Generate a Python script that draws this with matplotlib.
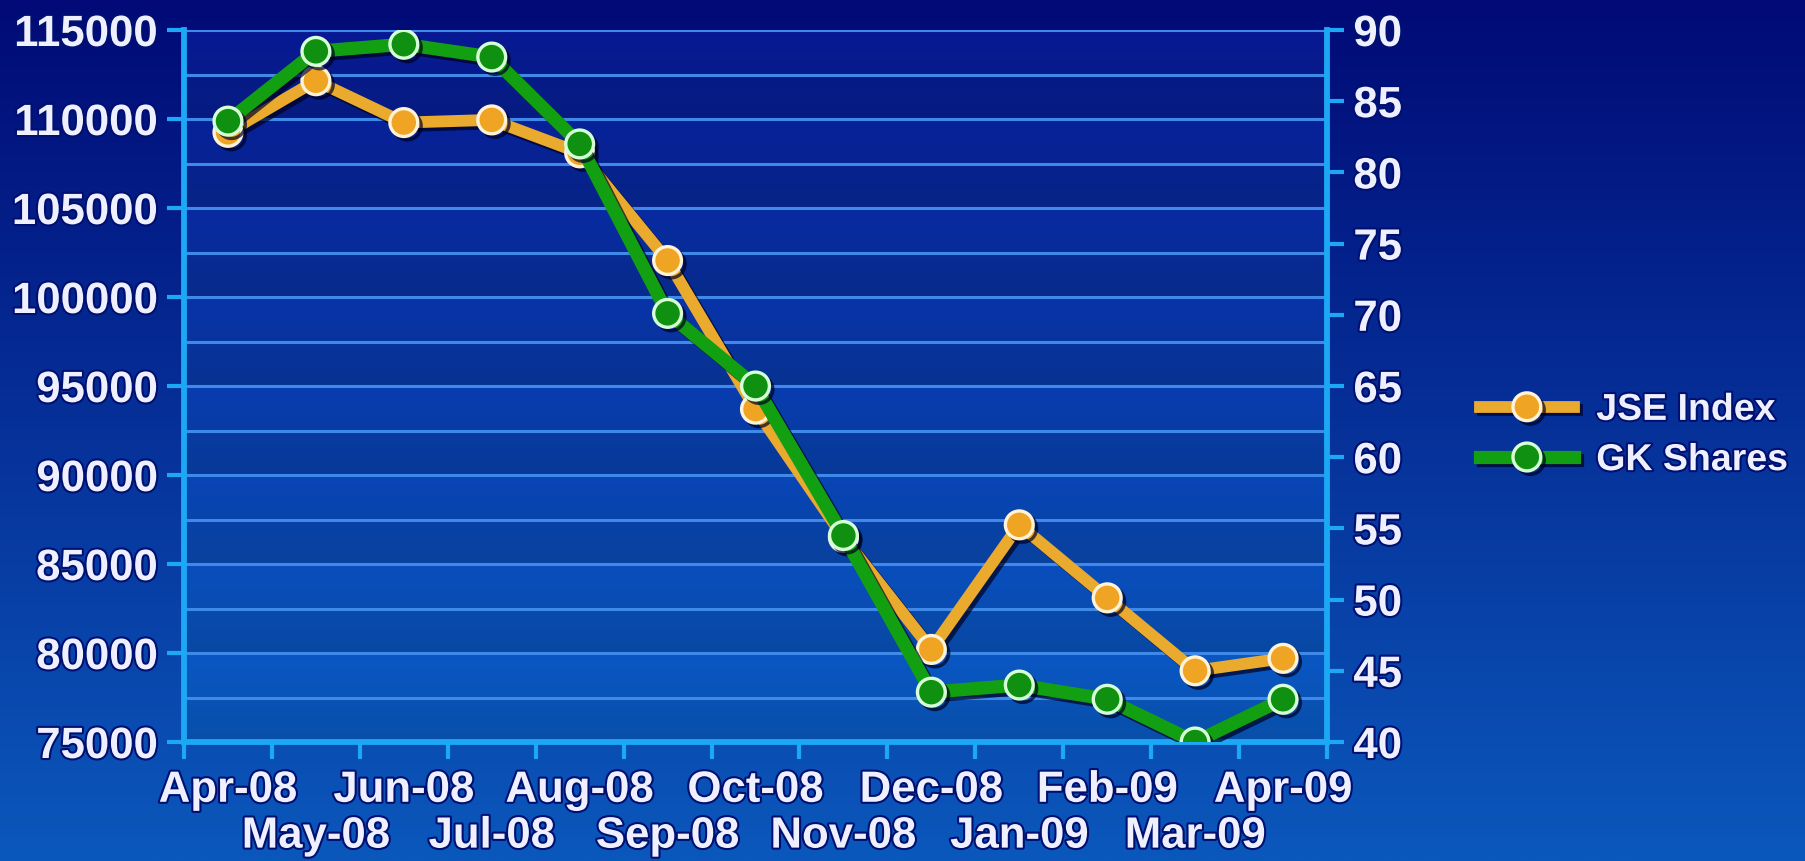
import numpy as np
import matplotlib
matplotlib.use("Agg")
import matplotlib.pyplot as plt
import matplotlib.patheffects as pe
from matplotlib.colors import to_rgb
from matplotlib.lines import Line2D

# ---- data -------------------------------------------------------------
months = ["Apr-08", "May-08", "Jun-08", "Jul-08", "Aug-08", "Sep-08", "Oct-08",
          "Nov-08", "Dec-08", "Jan-09", "Feb-09", "Mar-09", "Apr-09"]
jse_index = [109250, 112150, 109800, 109950, 108100, 102050, 93700,
             86500, 80200, 87200, 83100, 79000, 79700]
gk_shares = [83.6, 88.5, 89.0, 88.1, 82.0, 70.1, 65.0,
             54.5, 43.5, 44.0, 43.0, 40.0, 43.0]
left_ticks = list(range(75000, 115001, 5000))
right_ticks = list(range(40, 91, 5))
grid_levels = list(range(75000, 115001, 2500))

# ---- style ------------------------------------------------------------
FONT = "Liberation Sans"
FS = 31.5
TXT = "#eef0ff"
AXIS_C = "#1ca8f4"
GRID_C = "#3f8ae8"
JSE_C = "#e9aa2e"
GK_C = "#12a012"
txt_fx = [pe.withStroke(linewidth=3, foreground="#001070")]
line_fx = [pe.SimpleLineShadow(offset=(2.5, -2.5), shadow_color="#000020", alpha=0.7),
           pe.Normal()]


def style_labels(labels):
    for lab in labels:
        lab.set_fontfamily(FONT)
        lab.set_fontweight("bold")
        lab.set_fontsize(FS)
        lab.set_color(TXT)
        lab.set_path_effects(txt_fx)


W, H = 1806, 862
fig = plt.figure(figsize=(W / 100, H / 100), dpi=100)

# page background: vertical navy-to-blue gradient
bg = fig.add_axes([0, 0, 1, 1], zorder=-10)
top, bot = np.array(to_rgb("#010a76")), np.array(to_rgb("#0b58bc"))
t = np.linspace(0, 1, 400)[:, None]
grad = top + (bot - top) * t[..., None] * np.ones((1, 2, 1))
bg.imshow(grad, aspect="auto", extent=[0, 1, 0, 1], origin="upper")
bg.set_axis_off()

L, R, T, B = 184, 1327, 31, 743
ax = fig.add_axes([L / W, 1 - B / H, (R - L) / W, (B - T) / H])
ax.set_xlim(-0.5, len(months) - 0.5)
ax.set_ylim(left_ticks[0], left_ticks[-1])

# plot area: banded gradient between the grid levels
nrows = 800
yy = np.linspace(0, 1, nrows)  # 0 at top
ptop, pbot = np.array(to_rgb("#07188e")), np.array(to_rgb("#0a5cc4"))
base = ptop + (pbot - ptop) * yy[:, None]
nb = len(grid_levels) - 1
band_pos = (yy * nb) % 1.0
band_idx = np.floor(yy * nb).astype(int)
shade = np.where(band_idx % 2 == 0, 1.0, 0.90) * (1.04 - 0.08 * band_pos)
img = np.clip(base * shade[:, None], 0, 1)
img = np.repeat(img[:, None, :], 2, axis=1)
ax.imshow(img, aspect="auto", origin="upper", zorder=0,
          extent=[-0.5, len(months) - 0.5, left_ticks[0], left_ticks[-1]])

for g in grid_levels[1:]:
    ax.axhline(g, color=GRID_C, lw=2.2, zorder=1)

ax2 = ax.twinx()
ax2.set_ylim(right_ticks[0], right_ticks[-1])

x = np.arange(len(months))
ax.plot(x, jse_index, color=JSE_C, lw=8.5, marker="o", ms=20,
        mfc="#f0a424", mec="#fff2d6", mew=2.4, zorder=5,
        solid_joinstyle="round", path_effects=line_fx)
ax2.plot(x, gk_shares, color=GK_C, lw=9.5, marker="o", ms=20,
         mfc="#0f9010", mec="#d6ffd6", mew=2.4, zorder=5,
         solid_joinstyle="round", path_effects=line_fx)

for a in (ax, ax2):
    a.spines["top"].set_visible(False)
    for s in ("left", "right", "bottom"):
        a.spines[s].set_color(AXIS_C)
        a.spines[s].set_linewidth(4.2)
    a.patch.set_visible(False)

ax.spines["right"].set_visible(False)
ax2.spines["left"].set_visible(False)
ax2.spines["bottom"].set_visible(False)

# x axis: ticks at month boundaries, labels at month centres on two rows
ax.set_xticks(x[::2])
ax.set_xticklabels(months[::2])
ax.set_xticks(np.arange(-0.5, len(months)), minor=True)
ax.tick_params(axis="x", which="major", length=0, pad=20)
ax.tick_params(axis="x", which="minor", length=12, width=3, color=AXIS_C, direction="out")

sec = ax.secondary_xaxis("bottom")
sec.set_xticks(x[1::2])
sec.set_xticklabels(months[1::2])
sec.tick_params(axis="x", length=0, pad=53)
sec.spines["bottom"].set_visible(False)

ax.set_yticks(left_ticks)
ax.set_yticklabels([str(v) for v in left_ticks])
ax.tick_params(axis="y", length=12, width=3, color=AXIS_C, pad=7, direction="out")
ax2.set_yticks(right_ticks)
ax2.set_yticklabels([str(v) for v in right_ticks])
ax2.tick_params(axis="y", length=12, width=3, color=AXIS_C, pad=7, direction="out")

style_labels(ax.get_xticklabels() + sec.get_xticklabels()
             + ax.get_yticklabels() + ax2.get_yticklabels())

handles = [
    Line2D([], [], color=JSE_C, lw=8.5, marker="o", ms=20, mfc="#f0a424",
           mec="#fff2d6", mew=2.4, path_effects=line_fx, label="JSE Index"),
    Line2D([], [], color=GK_C, lw=9.5, marker="o", ms=20, mfc="#0f9010",
           mec="#d6ffd6", mew=2.4, path_effects=line_fx, label="GK Shares"),
]
leg = fig.legend(handles=handles, loc="center left",
                 bbox_to_anchor=(1480 / W, 1 - 436 / H), frameon=False,
                 borderpad=0, borderaxespad=0, handlelength=2.5,
                 handletextpad=0.6, labelspacing=0.38,
                 prop={"family": FONT, "weight": "bold", "size": 27})
for txt in leg.get_texts():
    txt.set_color(TXT)
    txt.set_path_effects(txt_fx)

fig.savefig("out.png", dpi=100)
